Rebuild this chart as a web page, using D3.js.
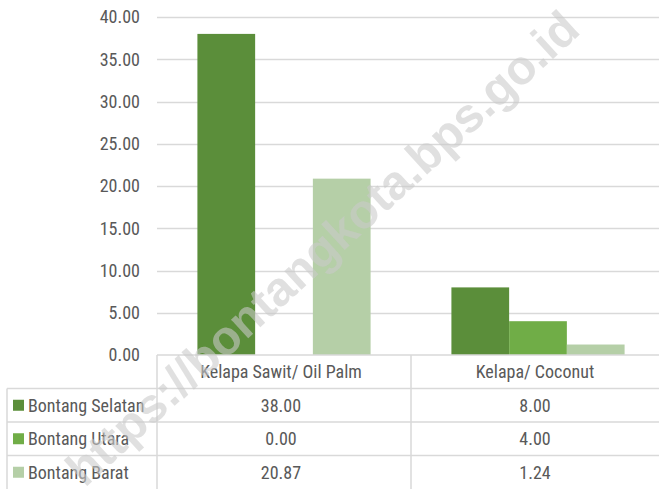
<!DOCTYPE html>
<html>
<head>
  <meta charset="utf-8">
  <script src="https://d3js.org/d3.v7.min.js"></script>
  <style>
    body { margin: 0; background: #fff; }
    svg { display: block; }
    text { font-family: "Liberation Sans Narrow", "Roboto Condensed", "Liberation Sans", sans-serif; fill: #595959; }
  </style>
</head>
<body>
<svg id="chart" width="659" height="489"></svg>
<script>
  // données
  const categories = ["Kelapa Sawit/ Oil Palm", "Kelapa/ Coconut"];
  const series = ["Bontang Selatan", "Bontang Utara", "Bontang Barat"];
  const valSelatan = [38.00, 8.00];
  const valUtara = [0.00, 4.00];
  const valBarat = [20.87, 1.24];
  const yTicks = [0, 5, 10, 15, 20, 25, 30, 35, 40];
  const colors = ["#5b8e3a", "#70ad47", "#b5cfa7"];

  const values = [valSelatan, valUtara, valBarat];

  const svg = d3.select("#chart");
  const plotLeft = 157, plotRight = 665, plotTop = 17, base = 355;
  const rowH = 33.5, tableLeft = 7;

  const x = d3.scaleBand().domain(categories).range([plotLeft, plotRight]);
  const xs = d3.scaleBand().domain(series).range([0, x.bandwidth()]).paddingOuter(0.7);
  const y = d3.scaleLinear().domain([0, 40]).range([base, plotTop]);

  // grille
  svg.append("g").selectAll("line")
    .data(yTicks.filter(d => d > 0))
    .join("line")
    .attr("x1", plotLeft).attr("x2", 659)
    .attr("y1", d => Math.round(y(d)) + 0.5).attr("y2", d => Math.round(y(d)) + 0.5)
    .attr("stroke", "#d9d9d9").attr("stroke-width", 1.5);

  // labels axe y
  svg.append("g").selectAll("text")
    .data(yTicks)
    .join("text")
    .attr("x", 140).attr("y", d => y(d))
    .attr("dy", "0.35em")
    .attr("text-anchor", "end")
    .attr("font-size", 18)
    .text(d => d3.format(".2f")(d));

  // barres
  categories.forEach((c, ci) => {
    svg.append("g").selectAll("rect")
      .data(series.map((s, si) => ({ s: s, si: si, v: values[si][ci] })))
      .join("rect")
      .attr("x", d => x(c) + xs(d.s))
      .attr("width", xs.bandwidth())
      .attr("y", d => y(d.v))
      .attr("height", d => base - y(d.v))
      .attr("fill", d => colors[d.si]);
  });

  // tableau
  const grid = svg.append("g").attr("stroke", "#d9d9d9").attr("stroke-width", 1.5);
  grid.append("line").attr("x1", plotLeft).attr("x2", 659).attr("y1", base).attr("y2", base);
  series.forEach((s, i) => {
    const yy = base + rowH * (i + 1);
    grid.append("line").attr("x1", tableLeft).attr("x2", 659).attr("y1", yy).attr("y2", yy);
  });
  grid.append("line").attr("x1", tableLeft).attr("x2", tableLeft).attr("y1", base + rowH).attr("y2", 489);
  categories.forEach(c => {
    grid.append("line").attr("x1", x(c)).attr("x2", x(c)).attr("y1", base).attr("y2", 489);
  });

  // en-têtes catégories
  svg.append("g").selectAll("text")
    .data(categories)
    .join("text")
    .attr("x", d => x(d) + x.bandwidth() / 2 - 3)
    .attr("y", base + rowH / 2)
    .attr("dy", "0.35em")
    .attr("text-anchor", "middle")
    .attr("font-size", 18)
    .text(d => d);

  // lignes de légende + valeurs
  series.forEach((s, si) => {
    const cy = base + rowH * (si + 1) + rowH / 2;
    svg.append("rect")
      .attr("x", 13).attr("y", cy - 5.5)
      .attr("width", 11).attr("height", 11)
      .attr("fill", colors[si]);
    svg.append("text")
      .attr("x", 28).attr("y", cy)
      .attr("dy", "0.35em")
      .attr("font-size", 18)
      .text(s);
    categories.forEach((c, ci) => {
      svg.append("text")
        .attr("x", x(c) + x.bandwidth() / 2 - 3)
        .attr("y", cy)
        .attr("dy", "0.35em")
        .attr("text-anchor", "middle")
        .attr("font-size", 18)
        .text(d3.format(".2f")(values[si][ci]));
    });
  });

  // filigrane
  svg.append("text")
    .attr("transform", "translate(322,248) rotate(-42.5)")
    .attr("text-anchor", "middle")
    .attr("dy", "0.35em")
    .style("font-family", "'Liberation Sans', Arial, sans-serif")
    .style("font-weight", "bold")
    .style("font-size", "48px")
    .style("fill", "rgb(202,202,202)")
    .style("fill-opacity", 0.58)
    .text("https://bontangkota.bps.go.id");
</script>
</body>
</html>
